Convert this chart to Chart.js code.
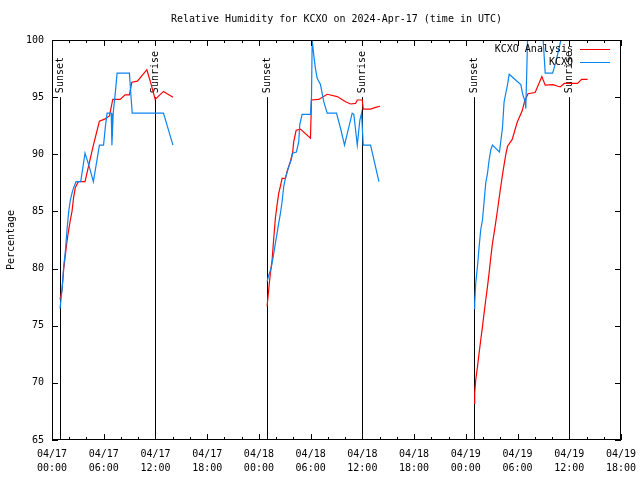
<!DOCTYPE html>
<html>
<head>
<meta charset="utf-8">
<script src="https://cdn.jsdelivr.net/npm/chart.js@4.4.1/dist/chart.umd.min.js"></script>
<style>
    body { margin: 0; background: #ffffff; }
</style>
</head>
<body>
<canvas id="rh-chart" width="640" height="480"></canvas>
<script>
// Chart text
const plotTitle = 'Relative Humidity for KCXO on 2024-Apr-17 (time in UTC)';
const yAxisTitle = 'Percentage';
const analysisLabel = 'KCXO Analysis';
const obsLabel = 'KCXO';

// Hours since 04/17 00:00 UTC (null RH = gap between nights)
const anaHours = [0.93, 1.16, 1.36, 1.55, 1.74, 1.94, 2.13, 2.32, 2.52, 2.71, 3.06, 3.83, 4.22, 4.80, 5.50, 6.16, 6.66, 7.05, 7.90, 8.48, 8.98, 9.26, 9.91, 11.0, 11.47, 11.97, 12.93, 14.03,
    19,
    24.95, 25.13, 25.33, 25.53, 25.72, 25.91, 26.11, 26.30, 26.49, 26.69, 27.07, 27.27, 27.66, 27.92, 28.04, 28.32, 28.82, 29.98, 30.10, 30.94, 31.92, 33.08, 34.05, 34.63, 35.21, 35.41, 35.99, 36.10, 36.95, 37.53, 38.03,
    43,
    48.95, 49.03, 49.15, 49.35, 49.54, 49.73, 49.93, 50.12, 50.31, 50.51, 50.70, 50.90, 51.09, 51.28, 51.48, 51.67, 51.86, 52.06, 52.25, 52.44, 52.64, 52.84, 53.38, 53.96, 54.54, 54.81, 55.21, 56.04, 56.82, 57.21, 58.10, 58.68, 58.95, 59.41, 60.96, 61.43, 62.13];
const anaRH = [77.3, 78.1, 80.0, 81.2, 82.4, 83.4, 84.25, 85.0, 86.3, 87.1, 87.6, 87.6, 88.9, 90.8, 92.9, 93.1, 93.35, 94.8, 94.8, 95.2, 95.2, 96.3, 96.4, 97.4, 96.2, 94.8, 95.5, 95.0,
    null,
    76.7, 78.1, 79.6, 80.75, 82.65, 84.4, 85.6, 86.6, 87.2, 87.9, 87.9, 88.5, 89.4, 90.2, 91.1, 92.1, 92.2, 91.4, 94.75, 94.8, 95.25, 95.05, 94.6, 94.4, 94.45, 94.75, 94.75, 93.96, 93.96, 94.1, 94.2,
    null,
    68.2, 69.1, 70.25, 71.4, 72.6, 73.75, 74.9, 76.1, 77.25, 78.4, 79.6, 81.0, 82.2, 83.1, 84.1, 85.1, 86.15, 87.2, 88.2, 89.1, 90.0, 90.7, 91.3, 92.8, 93.8, 94.6, 95.3, 95.4, 96.8, 96.05, 96.1, 95.95, 95.9, 96.2, 96.2, 96.55, 96.55];

const obsHours = [0.93, 1.16, 1.36, 1.55, 1.74, 1.94, 2.13, 2.32, 2.47, 2.79, 3.33, 3.83, 4.33, 4.80, 5.50, 5.98, 6.19, 6.39, 6.87, 6.95, 7.10, 7.36, 7.55, 8.98, 9.30, 12.93, 14.03,
    19,
    24.95, 25.13, 25.41, 25.65, 25.91, 26.11, 26.30, 26.49, 26.69, 26.88, 27.07, 27.46, 27.74, 27.92, 28.35, 28.62, 28.74, 29.01, 29.98, 30.10, 30.18, 30.36, 30.56, 30.76, 31.14, 31.52, 31.92, 33.00, 33.46, 33.93, 34.31, 34.82, 35.01, 35.41, 35.71, 35.91, 36.10, 36.95, 37.92,
    43,
    48.95, 49.03, 49.15, 49.27, 49.42, 49.54, 49.73, 49.93, 50.12, 50.31, 50.51, 50.70, 50.90, 51.09, 51.90, 52.25, 52.44, 52.84, 53.03, 54.00, 54.38, 54.58, 54.88, 54.96, 55.16, 56.97, 57.21, 58.07, 58.45, 59.03, 62.17];
const obsRH = [76.5, 78.1, 80.2, 81.5, 83.4, 85.0, 86.0, 86.6, 87.0, 87.6, 87.6, 90.1, 88.9, 87.6, 90.8, 90.8, 92.4, 93.6, 93.6, 90.8, 93.6, 95.5, 97.1, 97.1, 93.6, 93.6, 90.8,
    null,
    78.85, 79.4, 80.0, 81.0, 82.2, 83.1, 84.0, 84.8, 85.85, 87.2, 87.9, 88.9, 89.5, 90.1, 90.2, 91.1, 92.6, 93.5, 93.5, 95.05, 100, 98.7, 97.5, 96.65, 96.1, 94.6, 93.6, 93.6, 92.3, 90.8, 92.0, 93.6, 93.5, 90.8, 93.0, 93.6, 90.8, 90.8, 87.6,
    null,
    76.5, 77.0, 78.7, 79.6, 80.75, 81.9, 83.4, 84.25, 85.85, 87.5, 88.3, 89.5, 90.4, 90.8, 90.2, 92.3, 94.6, 96.1, 97.0, 96.35, 96.1, 95.3, 94.6, 94.0, 100, 100, 97.1, 97.1, 98.1, 100, 100];

// Sun events, hours since 04/17 00:00 UTC
const sunsetHours = [0.9, 24.9, 48.9];
const sunriseHours = [12.0, 36.0, 60.0];
const markerTopRH = 95;

const xMin = 0, xMax = 66;   // 04/17 00:00 .. 04/19 18:00
const yMin = 65, yMax = 100;

const FONT = '"DejaVu Sans Mono", "Liberation Mono", monospace';
const RED = '#ff0000';
const BLUE = '#0a84f0';

function pad2(n) {
    return (n < 10 ? '0' : '') + n;
}

// Draws the gnuplot-like frame, inward ticks, sun markers, legend and title
const gnuplotDecor = {
    id: 'gnuplotDecor',
    beforeDatasetsDraw(chart) {
        const {ctx, chartArea: a, scales: {x, y}} = chart;
        ctx.save();
        ctx.strokeStyle = '#000';
        ctx.fillStyle = '#000';
        ctx.lineWidth = 1;
        ctx.font = '10px ' + FONT;
        const marks = sunsetHours.map(h => [h, 'Sunset']).concat(sunriseHours.map(h => [h, 'Sunrise']));
        const topPx = y.getPixelForValue(markerTopRH);
        marks.forEach(([h, label]) => {
            const px = Math.round(x.getPixelForValue(h)) + 0.5;
            ctx.beginPath();
            ctx.moveTo(px, topPx);
            ctx.lineTo(px, a.bottom);
            ctx.stroke();
            ctx.save();
            ctx.translate(px, topPx - 4);
            ctx.rotate(-Math.PI / 2);
            ctx.textAlign = 'left';
            ctx.textBaseline = 'middle';
            ctx.fillText(label, 0, 0);
            ctx.restore();
        });
        ctx.restore();
    },
    afterDatasetsDraw(chart) {
        const {ctx, chartArea: a, scales: {x, y}} = chart;
        ctx.save();
        ctx.strokeStyle = '#000';
        ctx.lineWidth = 1;
        ctx.beginPath();
        // ticks on x (major every 6h, minor every 2h), both top and bottom
        for (let h = xMin; h <= xMax; h += 2) {
            const px = Math.round(x.getPixelForValue(h)) + 0.5;
            const len = (h % 6 === 0) ? 6 : 3;
            ctx.moveTo(px, a.bottom);
            ctx.lineTo(px, a.bottom - len);
            ctx.moveTo(px, a.top);
            ctx.lineTo(px, a.top + len);
        }
        // ticks on y, left and right
        for (let v = yMin; v <= yMax; v += 5) {
            const py = Math.round(y.getPixelForValue(v)) + 0.5;
            ctx.moveTo(a.left, py);
            ctx.lineTo(a.left + 6, py);
            ctx.moveTo(a.right, py);
            ctx.lineTo(a.right - 6, py);
        }
        ctx.stroke();
        // border
        ctx.strokeRect(a.left + 0.5, a.top + 0.5, a.right - a.left - 1, a.bottom - a.top - 1);

        // legend (top right, text then line sample)
        ctx.font = '10px ' + FONT;
        ctx.fillStyle = '#000';
        ctx.textAlign = 'right';
        ctx.textBaseline = 'middle';
        const items = [[analysisLabel, RED], [obsLabel, BLUE]];
        items.forEach(([label, color], i) => {
            const ly = a.top + 9 + i * 13;
            ctx.fillText(label, a.right - 48, ly);
            ctx.strokeStyle = color;
            ctx.beginPath();
            ctx.moveTo(a.right - 41, ly + 0.5);
            ctx.lineTo(a.right - 11, ly + 0.5);
            ctx.stroke();
        });

        // title
        ctx.textAlign = 'center';
        ctx.fillText(plotTitle, (a.left + a.right) / 2, 19);
        ctx.restore();
    }
};

function buildPoints(hours, values) {
    return hours.map((h, i) => ({x: h, y: values[i]}));
}

const ctx = document.getElementById('rh-chart').getContext('2d');
const rhChart = new Chart(ctx, {
    type: 'line',
    data: {
        datasets: [{
            label: obsLabel,
            data: buildPoints(obsHours, obsRH),
            borderColor: BLUE,
            borderWidth: 1.2,
            pointRadius: 0,
            tension: 0,
            spanGaps: false,
            order: 0
        }, {
            label: analysisLabel,
            data: buildPoints(anaHours, anaRH),
            borderColor: RED,
            borderWidth: 1.2,
            pointRadius: 0,
            tension: 0,
            spanGaps: false,
            order: 1
        }]
    },
    options: {
        responsive: false,
        animation: false,
        layout: {
            padding: {top: 40, right: 19, left: 0, bottom: 0}
        },
        scales: {
            x: {
                type: 'linear',
                min: xMin,
                max: xMax,
                grid: { display: false, drawTicks: false },
                border: { display: false },
                afterFit: (s) => { s.height = 40; s.paddingLeft = 0; s.paddingRight = 0; },
                ticks: {
                    stepSize: 6,
                    autoSkip: false,
                    maxRotation: 0,
                    padding: 7,
                    color: '#000',
                    font: { family: FONT, size: 10, lineHeight: 1.4 },
                    callback: function(value) {
                        const day = 17 + Math.floor(value / 24);
                        return ['04/' + day, pad2(value % 24) + ':00'];
                    }
                }
            },
            y: {
                min: yMin,
                max: yMax,
                grid: { display: false, drawTicks: false },
                border: { display: false },
                afterFit: (s) => { s.width = 52; s.paddingTop = 0; s.paddingBottom = 0; },
                ticks: {
                    stepSize: 5,
                    padding: 8,
                    color: '#000',
                    font: { family: FONT, size: 10 }
                },
                title: {
                    display: true,
                    text: yAxisTitle,
                    color: '#000',
                    padding: { top: 5, bottom: 0 },
                    font: { family: FONT, size: 10 }
                }
            }
        },
        plugins: {
            legend: { display: false },
            tooltip: { enabled: false }
        }
    },
    plugins: [gnuplotDecor]
});
</script>
</body>
</html>
